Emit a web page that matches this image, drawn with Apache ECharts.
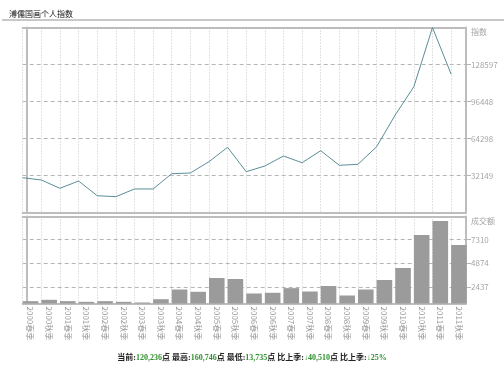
<!DOCTYPE html>
<html><head><meta charset="utf-8">
<script src="https://cdn.jsdelivr.net/npm/echarts@6/dist/echarts.min.js"></script>
<style>html,body{margin:0;padding:0;background:#fff}#c{width:504px;height:367px}</style>
</head><body><div id="c"></div>
<script>
const categories = ['2000春季','2000秋季','2001春季','2001秋季','2002春季','2002秋季','2003春季','2003秋季',
  '2004春季','2004秋季','2005春季','2005秋季','2006春季','2006秋季','2007春季','2007秋季',
  '2008春季','2008秋季','2009春季','2009秋季','2010春季','2010秋季','2011春季','2011秋季'];
const indexValues = [30240, 28240, 21030, 27370, 14600, 13735, 20420, 20420,
  33710, 34320, 44140, 56650, 35450, 40400, 49090, 43270,
  53700, 41010, 41880, 57170, 84720, 109310, 160746, 120236];
const volumeValues = [957, 1097, 957, 889, 957, 889, 820, 1160,
  2159, 1922, 3343, 3240, 1747, 1819, 2300, 1953,
  2520, 1541, 2159, 3138, 4374, 7773, 9215, 6743];
const indexTickLabels = [32149, 64298, 96448, 128597];
const volumeTickLabels = [2437, 4874, 7310];
const indexAxisMax = 160746;
const volumeAxisMin = 717, volumeAxisMax = 9679;
const summary = {current: '120,236', high: '160,746', low: '13,735', diff: '↓40,510', pct: '↓25%'};

const X_MAX = 23.8, BAR_SHIFT = 0.42;
const frame = {show: true, onZero: false, lineStyle: {color: '#bdbdbd', width: 2}};
const gray = '#a6a6a6';
const dotted = {show: true, lineStyle: {color: '#c4c4c4', type: [1, 2], width: 1}};
const dashed = {show: true, lineStyle: {color: '#b5b5b5', type: [4, 3], width: 1}};

function xAxes(grid) {
  return [
    {type: 'value', gridIndex: grid, position: 'bottom', min: 0, max: X_MAX, interval: 1,
     axisLine: frame, axisTick: {show: false}, splitLine: dotted,
     axisLabel: grid === 1 ? {
       show: true, rotate: -90, fontSize: 8, color: '#9a9a9a', margin: 3,
       verticalAlign: 'bottom', lineHeight: 15.6,
       fontFamily: '"Noto Sans CJK SC", sans-serif',
       formatter: v => Number.isInteger(v) && categories[v] ? categories[v] : ''
     } : {show: false}},
    {type: 'value', gridIndex: grid, position: 'top', min: 0, max: X_MAX, interval: 1,
     axisLine: frame, axisTick: {show: false}, splitLine: {show: false}, axisLabel: {show: false}}
  ];
}
function yAxes(grid, min, max, ticks, title) {
  return [
    {type: 'value', gridIndex: grid, position: 'right', min: min, max: max,
     axisLine: frame,
     axisTick: {show: true, length: 5, customValues: ticks, lineStyle: {color: '#b5b5b5'}},
     axisLabel: {show: true, customValues: ticks.concat([max]), margin: 5, fontSize: 8, color: gray,
       fontFamily: '"Noto Sans CJK SC", sans-serif',
       formatter: v => v >= max ? '{t|' + title + '}' : String(v),
       rich: {t: {padding: [8, 0, 0, 0], fontSize: 8, color: gray, fontFamily: '"Noto Sans CJK SC", sans-serif'}}},
     splitLine: dashed},
    {type: 'value', gridIndex: grid, position: 'left', offset: -4, min: min, max: max,
     axisLine: frame, axisTick: {show: false}, axisLabel: {show: false}, splitLine: {show: false}}
  ];
}

const chart = echarts.init(document.getElementById('c'), null, {renderer: 'canvas'});
const txt = {fontSize: 8, color: '#222', fontFamily: '"Liberation Serif", "Noto Sans CJK SC", serif'};
const grn = {fontSize: 8, color: '#2f8f2f', fontFamily: '"Liberation Serif", "Noto Sans CJK SC", serif'};
chart.setOption({
  animation: false,
  backgroundColor: '#fff',
  title: [
    {text: '溥儒国画个人指数', left: 4, top: 5,
     textStyle: {fontSize: 8, fontWeight: 'normal', color: '#111', fontFamily: '"Noto Sans CJK SC", sans-serif'}},
    {text: '{a|当前:}{b|' + summary.current + '}{a|点 最高:}{b|' + summary.high + '}{a|点 最低:}{b|' +
       summary.low + '}{a|点 比上季:}{b|' + summary.diff + '}{a|点 比上季:}{b|' + summary.pct + '}',
     left: 'center', top: 349, textStyle: {rich: {a: txt, b: grn}}}
  ],
  graphic: [
    {type: 'line', shape: {x1: 2, y1: 20, x2: 504, y2: 20}, style: {stroke: '#c8c8c8', lineWidth: 2}}
  ],
  grid: [
    {left: 22.7, top: 27.5, width: 443.3, height: 185, show: false},
    {left: 22.7, top: 216.5, width: 443.3, height: 87, show: false}
  ],
  xAxis: xAxes(0).concat(xAxes(1)),
  yAxis: yAxes(0, 0, indexAxisMax, indexTickLabels, '指数')
    .concat(yAxes(1, volumeAxisMin, volumeAxisMax, volumeTickLabels, '成交额')),
  series: [
    {type: 'line', xAxisIndex: 0, yAxisIndex: 0, symbol: 'none',
     lineStyle: {color: '#5b8e98', width: 1}, data: indexValues.map((v, i) => [i, v])},
    {type: 'bar', xAxisIndex: 2, yAxisIndex: 2, barWidth: 15.6,
     itemStyle: {color: '#9b9b9b'}, data: volumeValues.map((v, i) => [i + BAR_SHIFT, v])}
  ]
});
</script></body></html>
